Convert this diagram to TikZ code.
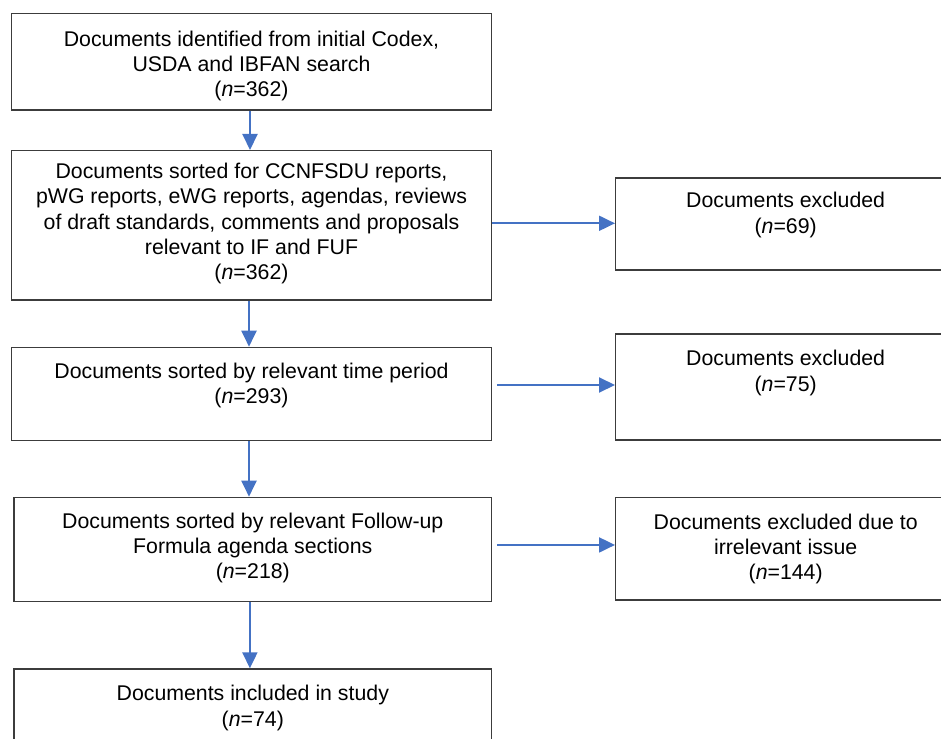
\documentclass[tikz,border=0pt]{standalone}
\usepackage{fontspec}
\setmainfont{Liberation Sans}
\usetikzlibrary{arrows.meta}
\definecolor{arrowblue}{HTML}{4472C4}
\definecolor{boxline}{HTML}{3C3C3C}
\newcommand{\flowtext}[4]{\parbox[t][#1][t]{#2}{\centering\vspace*{#3}\rule{0pt}{16pt}#4\par}}
\begin{document}
\begin{tikzpicture}[x=1pt,y=1pt,
  flowbox/.style={draw=boxline, line width=1.3pt, inner sep=0pt, anchor=north west,
    font=\fontsize{21.3}{25.3}\selectfont},
  flowarrow/.style={draw=arrowblue, line width=2pt, -{Triangle[length=16pt,width=15pt]}}]
\useasboundingbox (0,0) rectangle (941,-738);
\clip (0,0) rectangle (941,-738);
\node[flowbox] (b1) at (10.7,-12.7) {\flowtext{96.6pt}{480.3pt}{17pt}{Documents identified from initial Codex,\\USDA and IBFAN search\\(\textit{n}=362)}};
\node[flowbox] (b2) at (10.7,-150) {\flowtext{149.3pt}{480.3pt}{12pt}{Documents sorted for CCNFSDU reports,\\pWG reports, eWG reports, agendas, reviews\\of draft standards, comments and proposals\\relevant to IF and FUF\\(\textit{n}=362)}};
\node[flowbox] (b3) at (10.7,-346.7) {\flowtext{93.3pt}{480.3pt}{15pt}{Documents sorted by relevant time period\\(\textit{n}=293)}};
\node[flowbox] (b4) at (13.3,-496.7) {\flowtext{104pt}{477.7pt}{15pt}{Documents sorted by relevant Follow-up\\Formula agenda sections\\(\textit{n}=218)}};
\node[flowbox] (b5) at (13.3,-668.3) {\flowtext{140pt}{477.7pt}{16pt}{Documents included in study\\(\textit{n}=74)}};
\node[flowbox] (r1) at (615,-177.3) {\flowtext{92pt}{340pt}{14pt}{Documents excluded\\(\textit{n}=69)}};
\node[flowbox] (r2) at (615,-333.3) {\flowtext{106pt}{340pt}{16pt}{Documents excluded\\(\textit{n}=75)}};
\node[flowbox] (r3) at (615,-496.7) {\flowtext{102.6pt}{340pt}{16pt}{Documents excluded due to\\irrelevant issue\\(\textit{n}=144)}};
\draw[flowarrow] ([xshift=-1.5pt]b1.south) -- ([xshift=-1.5pt]b1.south |- b2.north);
\draw[flowarrow] ([xshift=-2.5pt]b2.south) -- ([xshift=-2.5pt]b2.south |- b3.north);
\draw[flowarrow] ([xshift=-2.5pt]b3.south) -- ([xshift=-2.5pt]b3.south |- b4.north);
\draw[flowarrow] ([xshift=-2.9pt]b4.south) -- ([xshift=-2.9pt]b4.south |- b5.north);
\draw[flowarrow] ([yshift=2pt]b2.east) -- ([yshift=2pt]b2.east -| r1.west);
\draw[flowarrow] ([xshift=5pt,yshift=9pt]b3.east) -- ([yshift=9pt]b3.east -| r2.west);
\draw[flowarrow] ([xshift=5pt,yshift=4.4pt]b4.east) -- ([yshift=4.4pt]b4.east -| r3.west);
\end{tikzpicture}
\end{document}
